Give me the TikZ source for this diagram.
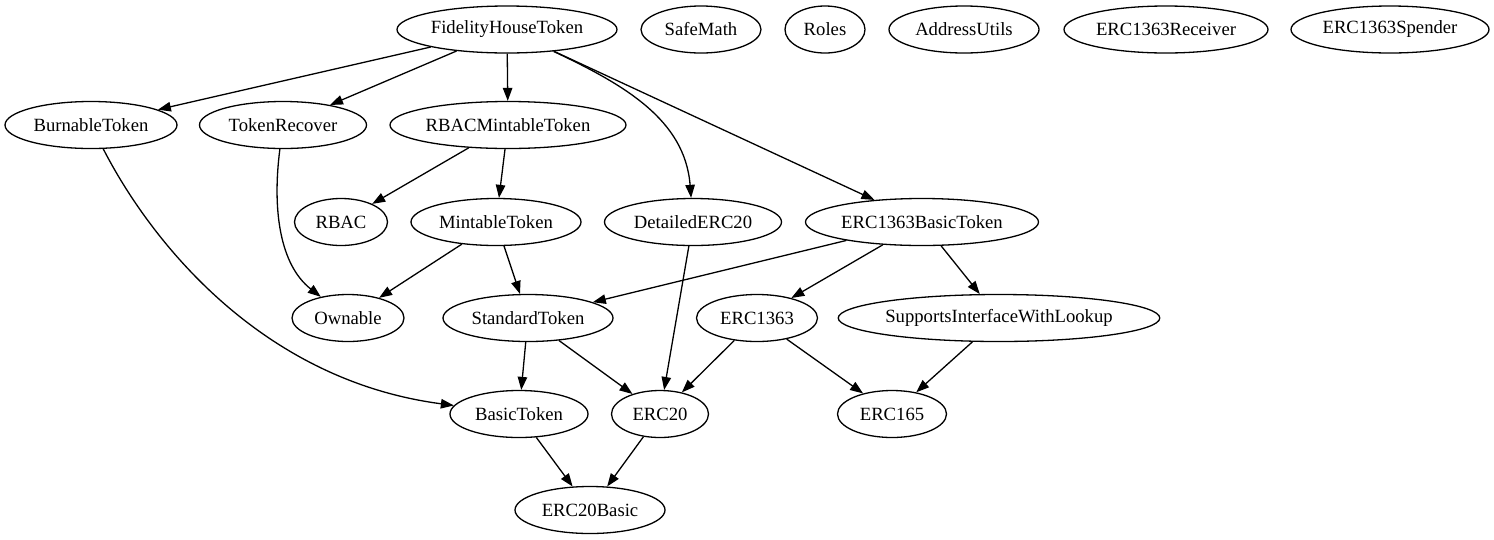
\documentclass[tikz,border=0pt]{standalone}
\usepackage{fontspec}
\setmainfont{Liberation Serif}
\usetikzlibrary{shapes.geometric,arrows.meta}
\tikzset{
  cls/.style={draw, ellipse, line width=1.3pt, inner sep=0pt, minimum height=47pt, minimum width=#1,
    font=\fontsize{18.67}{20}\selectfont},
  dep/.style={line width=1.3pt, -{Triangle[length=13pt,width=9.5pt]}}
}
\begin{document}
\begin{tikzpicture}[x=1pt,y=-1pt]
\useasboundingbox (0,0) rectangle (1494,539);
% row 1
\node[cls=220pt] (fht) at (507,29.5) {FidelityHouseToken};
\node[cls=120pt] (safe) at (701,29.5) {SafeMath};
\node[cls=80pt] (roles) at (825,29.5) {Roles};
\node[cls=150pt] (addr) at (964,29.5) {AddressUtils};
\node[cls=204pt] (recv) at (1166,29.5) {ERC1363Receiver};
\node[cls=198pt] (spend) at (1390,29.5) {ERC1363Spender};
% row 2
\node[cls=172pt] (burn) at (91,125) {BurnableToken};
\node[cls=167pt] (rec) at (283,125) {TokenRecover};
\node[cls=236pt] (rbacm) at (508,125) {RBACMintableToken};
% row 3
\node[cls=93pt] (rbac) at (341,222) {RBAC};
\node[cls=170pt] (mint) at (496,222) {MintableToken};
\node[cls=177pt] (det) at (693,222) {DetailedERC20};
\node[cls=233pt] (b1363) at (922,222) {ERC1363BasicToken};
% row 4
\node[cls=112pt] (own) at (348,318) {Ownable};
\node[cls=170pt] (std) at (528,318) {StandardToken};
\node[cls=121pt] (e1363) at (757,318) {ERC1363};
\node[cls=316pt] (siwl) at (999,318) {SupportsInterfaceWithLookup};
% row 5
\node[cls=138pt] (basic) at (519,414) {BasicToken};
\node[cls=97pt] (erc20) at (660,414) {ERC20};
\node[cls=109pt] (erc165) at (892,414) {ERC165};
% row 6
\node[cls=150pt] (e20b) at (590,510) {ERC20Basic};
% edges
\draw[dep] (fht) -- (burn);
\draw[dep] (fht) -- (rec);
\draw[dep] (fht) -- (rbacm);
\draw[dep] (fht) .. controls (625,85) and (685,120) .. (det);
\draw[dep] (fht) -- (b1363);
\draw[dep] (burn) .. controls (150,240) and (260,380) .. (basic);
\draw[dep] (rec) .. controls (272,210) and (280,265) .. (own);
\draw[dep] (rbacm) -- (rbac);
\draw[dep] (rbacm) -- (mint);
\draw[dep] (mint) -- (own);
\draw[dep] (mint) -- (std);
\draw[dep] (det) -- (erc20);
\draw[dep] (b1363) -- (std);
\draw[dep] (b1363) -- (e1363);
\draw[dep] (b1363) -- (siwl);
\draw[dep] (std) -- (basic);
\draw[dep] (std) -- (erc20);
\draw[dep] (e1363) -- (erc20);
\draw[dep] (e1363) -- (erc165);
\draw[dep] (siwl) -- (erc165);
\draw[dep] (basic) -- (e20b);
\draw[dep] (erc20) -- (e20b);
\end{tikzpicture}
\end{document}
